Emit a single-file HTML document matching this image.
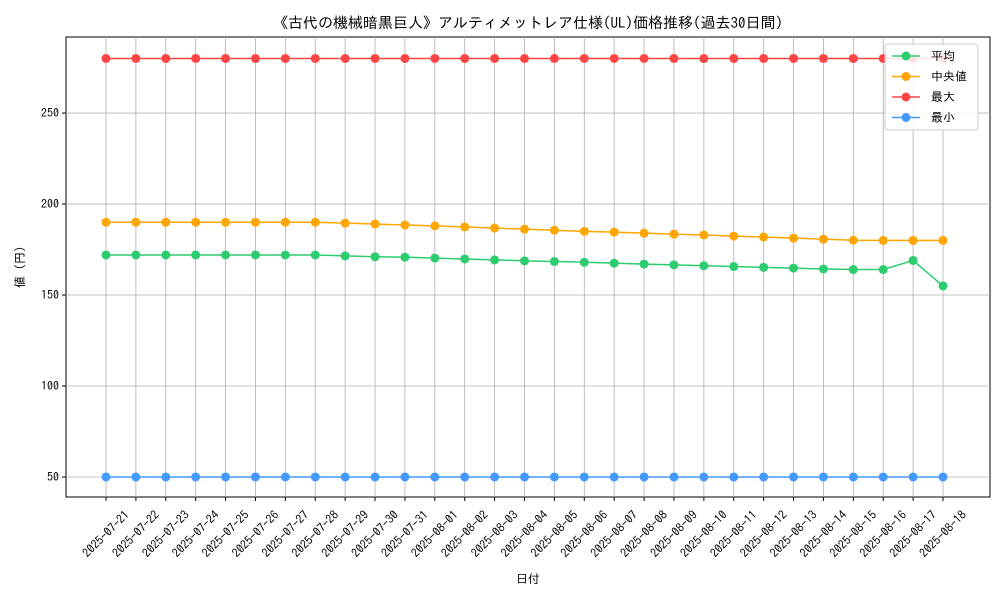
<!DOCTYPE html>
<html><head><meta charset="utf-8"><style>
body{margin:0;background:#fff;font-family:"IPAGothic","Noto Sans CJK JP",sans-serif;}
svg text{font-family:"IPAGothic","Noto Sans CJK JP",sans-serif;}
</style></head><body>
<svg id="chart" width="1000" height="600">
<text x="528" y="28" text-anchor="middle" font-size="15">《古代の機械暗黒巨人》アルティメットレア仕様(UL)価格推移(過去30日間)</text>
<rect x="66" y="37" width="924" height="460" fill="none" stroke="#000" stroke-width="1"/>
<g id="grid"></g><g id="series"></g><g id="axes"></g>
<text x="528" y="583" text-anchor="middle" font-size="12">日付</text>
<text x="24" y="267" text-anchor="middle" font-size="12" transform="rotate(-90 24 267)">値 (円)</text>
<g id="legend"></g>
</svg>
<script>
const dates=["2025-07-21","2025-07-22","2025-07-23","2025-07-24","2025-07-25","2025-07-26","2025-07-27","2025-07-28","2025-07-29","2025-07-30","2025-07-31","2025-08-01","2025-08-02","2025-08-03","2025-08-04","2025-08-05","2025-08-06","2025-08-07","2025-08-08","2025-08-09","2025-08-10","2025-08-11","2025-08-12","2025-08-13","2025-08-14","2025-08-15","2025-08-16","2025-08-17","2025-08-18"];
const avgValues=[172,172,172,172,172,172,172,172,171.5,171,170.8,170.3,169.8,169.3,168.8,168.4,168,167.5,167,166.6,166.1,165.7,165.2,164.8,164.3,164,164,169,155];
const medianValues=[190,190,190,190,190,190,190,190,189.5,189,188.5,188,187.4,186.8,186.2,185.6,185,184.6,184,183.5,183,182.4,181.9,181.3,180.7,180.1,180,180,180];
const maxValues=[280,280,280,280,280,280,280,280,280,280,280,280,280,280,280,280,280,280,280,280,280,280,280,280,280,280,280,280,280];
const minValues=[50,50,50,50,50,50,50,50,50,50,50,50,50,50,50,50,50,50,50,50,50,50,50,50,50,50,50,50,50];
const yTicks=[50,100,150,200,250];
const seriesNames=["平均","中央値","最大","最小"];
const NS="http://www.w3.org/2000/svg";
const L=66,R=990,T=37,B=497,ymin=39,ymax=291.8;
const xs=i=>106+i*(943-106)/(dates.length-1);
const ys=v=>B-(v-ymin)/(ymax-ymin)*(B-T);
function mk(tag,attrs,parent){const e=document.createElementNS(NS,tag);for(const k in attrs)e.setAttribute(k,attrs[k]);parent.appendChild(e);return e;}
const grid=document.getElementById('grid'),axes=document.getElementById('axes'),ser=document.getElementById('series'),leg=document.getElementById('legend');
dates.forEach((d,i)=>{const x=xs(i);
 const g=mk('line',{x1:x,x2:x,y1:T,y2:B,stroke:'#b0b0b0','stroke-width':0.8},grid);
 
 
 const t=mk('line',{x1:x,x2:x,y1:B,y2:B+4,stroke:'#000'},axes);
 
 
 const cy=534;
 const lb=mk('text',{x:x,y:cy+4,'font-size':12,'text-anchor':'middle',transform:`rotate(-45 ${x} ${cy})`},axes);
 lb.textContent=d;
 
 
});
yTicks.forEach(v=>{const y=ys(v);
 const g=mk('line',{x1:L,x2:R,y1:y,y2:y,stroke:'#b0b0b0','stroke-width':0.8},grid);
 
 
 const t=mk('line',{x1:L-4,x2:L,y1:y,y2:y,stroke:'#000'},axes);
 
 
 const lb=mk('text',{x:L-7,y:y+4,'font-size':12,'text-anchor':'end'},axes);
 lb.textContent=v;
 
 
});
const allSeries=[avgValues,medianValues,maxValues,minValues];
const colors=["#2ecc71","#ffa500","#ff4444","#4499ff"];
const keys=["avg","median","max","min"];
allSeries.forEach((vals,s)=>{
 const p=mk('polyline',{points:vals.map((v,i)=>xs(i)+','+ys(v)).join(' '),fill:'none',stroke:colors[s],'stroke-width':1.5},ser);
 
 
 vals.forEach((v,i)=>{const c=mk('circle',{cx:xs(i),cy:ys(v),r:4.5,fill:colors[s]},ser);
  
  });
});
const lr=mk('rect',{x:885,y:44,width:93,height:86,fill:'#fff','fill-opacity':0.85,stroke:'#ccc',rx:3},leg);


seriesNames.forEach((n,s)=>{const y=56+s*20.5;
 const g=mk('g',{},leg);
 
 
 mk('line',{x1:892,x2:920,y1:y,y2:y,stroke:colors[s],'stroke-width':1.5},g);
 mk('circle',{cx:906,cy:y,r:4.5,fill:colors[s]},g);
 const t=mk('text',{x:931,y:y+4,'font-size':12},g);t.textContent=n;
});
</script>
</body></html>
